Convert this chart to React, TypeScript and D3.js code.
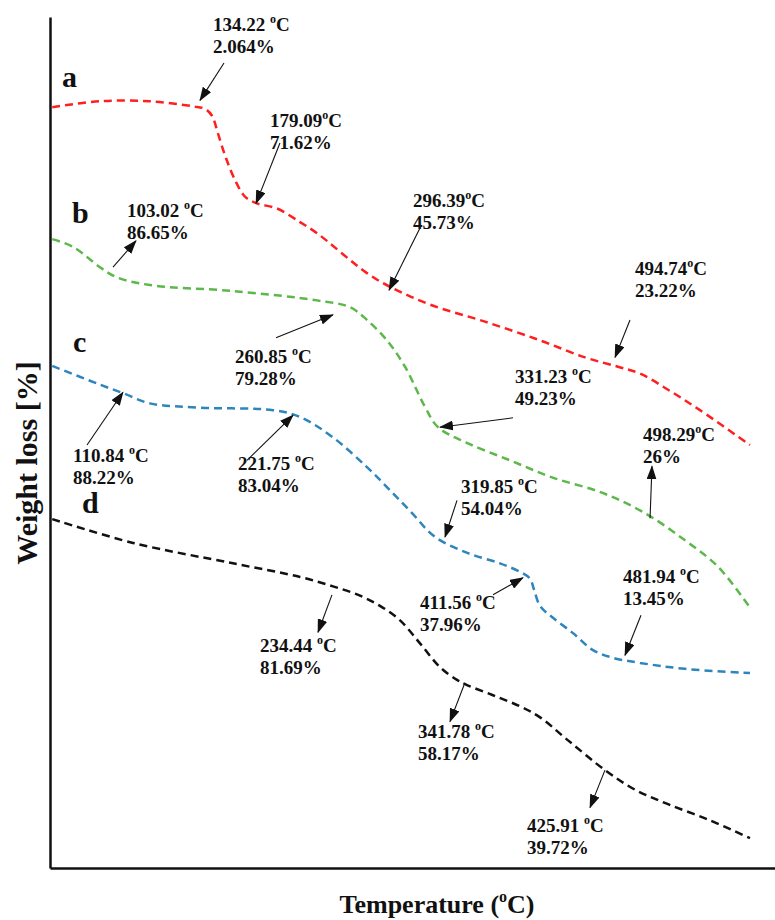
import React, { useRef, useEffect } from 'react';
import * as d3 from 'd3';

// temperature (°C) and stacked weight (arbitrary offset units)
const tempA = [2, 44.1, 88.3, 126.2, 136.8, 143.0, 148.3, 155.4, 164.2, 172.1, 182.7, 200.4, 220.7, 235.7, 279.8, 300.1, 335.5, 384.0, 432.6, 472.3, 501.4, 520.8, 545.6, 573.8, 617.9];
const weightA = [89.4, 90.1, 90.1, 89.5, 89.2, 88.4, 86.3, 83.4, 80.6, 78.9, 78.1, 77.5, 75.9, 74.6, 69.9, 68.3, 66.2, 64.2, 62.0, 60.0, 58.9, 58.1, 56.2, 53.8, 49.7];

const tempB = [2, 20.3, 44.1, 59.1, 88.3, 161.5, 235.7, 264.8, 279.8, 297.5, 313.4, 331.0, 342.5, 369.0, 406.1, 443.2, 487.3, 525.2, 560.6, 589.7, 617.9];
const weightB = [73.9, 73.0, 70.6, 69.4, 68.5, 67.8, 66.7, 65.9, 64.4, 62.0, 58.9, 54.2, 51.8, 49.9, 47.9, 45.9, 44.1, 41.7, 38.5, 35.4, 30.6];

const tempC = [2, 44.1, 64.4, 88.3, 132.4, 196.9, 220.7, 249.8, 279.8, 300.1, 319.6, 339.9, 369.0, 397.2, 414.9, 423.7, 427.3, 432.6, 444.0, 461.7, 479.3, 497.0, 520.8, 560.6, 617.9];
const weightC = [59.0, 56.8, 55.8, 54.6, 54.1, 53.8, 53.0, 50.6, 47.1, 44.4, 41.7, 38.9, 37.0, 35.8, 34.8, 34.0, 32.7, 30.8, 29.4, 27.6, 25.6, 24.7, 24.1, 23.4, 22.9];

const tempD = [2, 73.3, 161.5, 220.7, 249.8, 273.7, 291.3, 309.0, 326.6, 344.3, 359.3, 368.1, 391.1, 414.9, 432.6, 457.3, 489.9, 516.4, 545.6, 582.6, 617.9];
const weightD = [41.0, 38.2, 35.8, 34.2, 33.1, 32.0, 30.8, 29.1, 26.4, 23.6, 22.1, 21.5, 20.3, 19.0, 17.7, 15.0, 11.5, 9.2, 7.5, 5.6, 3.5];

const curveNames = ['a', 'b', 'c', 'd'];
const curveColors = ['#ff1f1f', '#5cb84a', '#2c86bd', '#111111'];
const curveLabelT = [10.6, 19.4, 20.3, 28.2];
const curveLabelW = [91.8, 75.8, 60.6, 41.7];

// annotations: temperature text, percent text, label anchor, arrow start -> tip
const annTemp = ['134.22', '179.09', '296.39', '494.74', '103.02', '260.85', '331.23', '498.29', '110.84', '221.75', '319.85', '411.56', '481.94', '234.44', '341.78', '425.91'];
const annSpace = [true, false, false, false, true, true, true, false, true, true, true, true, true, true, true, true];
const annPct = ['2.064%', '71.62%', '45.73%', '23.22%', '86.65%', '79.28%', '49.23%', '26%', '88.22%', '83.04%', '54.04%', '37.96%', '13.45%', '81.69%', '58.17%', '39.72%'];
const annTextT = [143.9, 194.2, 320.4, 516.4, 68.0, 163.3, 410.5, 523.5, 20.3, 166.0, 362.8, 326.6, 505.8, 185.4, 324.9, 421.1];
const annTextW = [98.4, 87.1, 77.7, 69.7, 76.5, 59.3, 57.0, 50.2, 47.7, 46.8, 44.1, 30.4, 33.5, 25.4, 15.3, 4.2];
const arrFromT = [153.6, 203.0, 326.6, 512.0, 55.6, 199.5, 408.7, 529.7, 32.7, 173.9, 359.3, 391.1, 521.7, 248.9, 365.5, 489.9];
const arrFromW = [94.6, 85.2, 75.2, 64.4, 70.6, 62.3, 52.9, 41.1, 49.7, 47.9, 43.2, 32.1, 29.7, 32.1, 21.5, 11.5];
const arrToT = [132.4, 181.9, 299.3, 498.8, 75.9, 249.8, 344.3, 531.4, 64.4, 214.5, 348.7, 417.5, 507.6, 236.6, 353.1, 476.7];
const arrToW = [90.2, 78.1, 67.9, 60.0, 73.7, 65.0, 51.8, 47.2, 55.9, 53.2, 38.9, 34.1, 25.0, 27.7, 17.2, 7.1];

const font = '"Liberation Serif", "Times New Roman", serif';

const App = () => {
  const xAxisRef = useRef<SVGGElement>(null);
  const yAxisRef = useRef<SVGGElement>(null);

  const width = 775;
  const height = 920;
  const margin = { top: 17, right: 0, bottom: 52, left: 50 };

  const x = d3.scaleLinear().domain([0, 640]).range([margin.left, width - margin.right]);
  const y = d3.scaleLinear().domain([0, 100]).range([height - margin.bottom, margin.top]);

  const series = [
    { t: tempA, w: weightA },
    { t: tempB, w: weightB },
    { t: tempC, w: weightC },
    { t: tempD, w: weightD },
  ];

  const line = d3.line<[number, number]>()
    .x(d => x(d[0]))
    .y(d => y(d[1]))
    .curve(d3.curveCatmullRom.alpha(0.5));

  useEffect(() => {
    const xa = d3.select(xAxisRef.current!)
      .call(d3.axisBottom(x).tickValues([]).tickSizeOuter(0));
    xa.select('.domain').attr('stroke', '#111').attr('stroke-width', 2.5);
    const ya = d3.select(yAxisRef.current!)
      .call(d3.axisLeft(y).tickValues([]).tickSizeOuter(0));
    ya.select('.domain').attr('stroke', '#111').attr('stroke-width', 2.5);
  }, []);

  return (
    <svg width={width} height={height} style={{ position: 'absolute', left: 0, top: 0, background: '#fff' }}
      fontFamily={font} fontWeight="bold">
      <defs>
        <marker id="head" markerUnits="userSpaceOnUse" markerWidth="14" markerHeight="10"
          refX="13" refY="5" orient="auto" viewBox="0 0 14 10">
          <path d="M0,0 L14,5 L0,10 Z" fill="#111" />
        </marker>
      </defs>

      <g ref={yAxisRef} transform={`translate(${margin.left},0)`} />
      <g ref={xAxisRef} transform={`translate(0,${height - margin.bottom})`} />

      {series.map((s, i) => (
        <path key={i}
          d={line(s.t.map((t, j) => [t, s.w[j]] as [number, number])) || ''}
          fill="none" stroke={curveColors[i]} strokeWidth={2.5} strokeDasharray="8,5" />
      ))}

      {curveNames.map((n, i) => (
        <text key={n} x={x(curveLabelT[i])} y={y(curveLabelW[i])} fontSize={30} fill="#111">{n}</text>
      ))}

      {annTemp.map((tv, i) => (
        <g key={i}>
          <line x1={x(arrFromT[i])} y1={y(arrFromW[i])} x2={x(arrToT[i])} y2={y(arrToW[i])}
            stroke="#111" strokeWidth={1.1} markerEnd="url(#head)" />
          <text x={x(annTextT[i])} y={y(annTextW[i])} fontSize={19} fill="#111">
            {tv + (annSpace[i] ? ' ' : '')}
            <tspan fontSize={12} dy={-8}>o</tspan>
            <tspan dy={8}>C</tspan>
          </text>
          <text x={x(annTextT[i])} y={y(annTextW[i]) + 22} fontSize={19} fill="#111">{annPct[i]}</text>
        </g>
      ))}

      <text transform={`translate(37,${463}) rotate(-90)`} textAnchor="middle" fontSize={30} fill="#111">
        Weight loss [%]
      </text>
      <text x={437} y={913} textAnchor="middle" fontSize={26} fill="#111">
        Temperature (<tspan fontSize={16} dy={-11}>o</tspan><tspan dy={11}>C)</tspan>
      </text>
    </svg>
  );
};

export default App;
